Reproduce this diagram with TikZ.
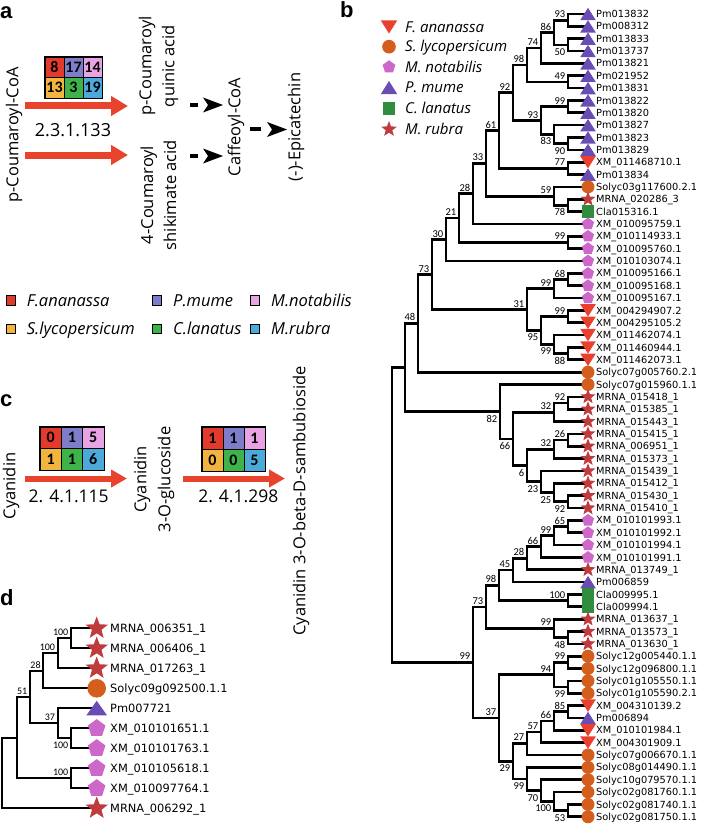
\documentclass[tikz,border=0pt]{standalone}
\usepackage{fontspec}
\setmainfont{Open Sans}
\newfontfamily\dvf{DejaVu Sans}
\newfontfamily\cbf{Carlito}
\newfontfamily\lsf{Liberation Sans}
\usetikzlibrary{arrows.meta,calc}
\definecolor{gR}{HTML}{E23B2E}
\definecolor{gP}{HTML}{7D7DC9}
\definecolor{gK}{HTML}{E7A3E3}
\definecolor{gO}{HTML}{F3B43F}
\definecolor{gG}{HTML}{3DB34A}
\definecolor{gB}{HTML}{4BAADA}
\definecolor{cra}{HTML}{E8432D}
\definecolor{cfa}{HTML}{E9402F}
\definecolor{csl}{HTML}{D35E1E}
\definecolor{cmn}{HTML}{CD67CA}
\definecolor{cpm}{HTML}{6A4CB5}
\definecolor{ccl}{HTML}{2F8D3D}
\definecolor{cmr}{HTML}{BF3B3E}
\tikzset{
  pics/fa/.style={code={\fill[cfa] (-7.8,-6.2) -- (7.8,-6.2) -- (0,6.2) -- cycle;}},
  pics/pm/.style={code={\fill[cpm] (-7.8,6.2) -- (7.8,6.2) -- (0,-6.2) -- cycle;}},
  pics/sl/.style={code={\fill[csl] (0,0) circle (6.5);}},
  pics/mn/.style={code={\fill[cmn] (-90:6.4) -- (-18:6.4) -- (54:6.4) -- (126:6.4) -- (198:6.4) -- cycle;}},
  pics/cl/.style={code={\fill[ccl] (-6,-6.2) rectangle (6,6.2);}},
  pics/mr/.style={code={\fill[cmr] (-90:7.8) -- (-54:3.3) -- (-18:7.8) -- (18:3.3) -- (54:7.8) -- (90:3.3) -- (126:7.8) -- (162:3.3) -- (198:7.8) -- (234:3.3) -- cycle;}},
  pics/dmr/.style={code={\fill[cmr] (-90:11.8) -- (-54:5) -- (-18:11.8) -- (18:5) -- (54:11.8) -- (90:5) -- (126:11.8) -- (162:5) -- (198:11.8) -- (234:5) -- cycle;}},
  pics/dsl/.style={code={\fill[csl] (0,0) circle (9.3);}},
  pics/dpm/.style={code={\fill[cpm] (-10.3,7) -- (10.3,7) -- (0,-7.5) -- cycle;}},
  pics/dmn/.style={code={\fill[cmn] (-90:9.2) -- (-18:9.2) -- (54:9.2) -- (126:9.2) -- (198:9.2) -- cycle;}},
  tb/.style={line width=2.7pt},
  td/.style={line width=2.3pt},
  lbb/.style={font=\dvf\fontsize{9.8}{11}\selectfont, anchor=base west, inner sep=0},
  lbd/.style={font=\dvf\fontsize{11.4}{12}\selectfont, anchor=base west, inner sep=0},
  bsa/.style={font=\cbf\fontsize{10.5}{12}\selectfont, anchor=base east, inner sep=0, xshift=-2.5pt, yshift=2.5pt},
  bsb/.style={font=\cbf\fontsize{10.5}{12}\selectfont, anchor=base east, inner sep=0, xshift=-2.5pt, yshift=-10.5pt},
  dsa/.style={font=\cbf\fontsize{10}{12}\selectfont, anchor=base east, inner sep=0, xshift=-2.5pt, yshift=2.4pt},
  dsb/.style={font=\cbf\fontsize{10}{12}\selectfont, anchor=base east, inner sep=0, xshift=-2.5pt, yshift=-10pt},
  pletter/.style={font=\lsf\bfseries\fontsize{22}{24}\selectfont, anchor=base west, inner sep=0},
  rtx/.style={rotate=90, inner sep=0, align=center, font=\fontsize{16.5}{23}\selectfont},
  enz/.style={inner sep=0, font=\fontsize{18}{20}\selectfont},
  cellg/.style={draw=black, line width=0.9pt, inner sep=0, font=\cbf\bfseries\fontsize{16}{16}\selectfont, text=black},
  lsq/.style={draw=black, line width=0.8pt, minimum size=9.5pt, inner sep=0},
  lgt/.style={anchor=base west, inner sep=0, font=\itshape\fontsize{16.5}{18}\selectfont},
  lgb/.style={anchor=base west, inner sep=0, font=\itshape\fontsize{15}{16}\selectfont},
  redarr/.style={draw=cra, line width=7pt, -{Triangle[length=17pt,width=19pt]}},
  redarc/.style={draw=cra, line width=6pt, -{Triangle[length=16pt,width=17pt]}},
  blkarr/.style={line width=4pt, dash pattern=on 8pt off 80pt, -{Stealth[length=20pt,width=15pt,inset=5pt,line width=0pt]}}
}
\begin{document}
\begin{tikzpicture}[x=1pt,y=-1pt]
\useasboundingbox (0,0) rectangle (708,824);

% ---------------- panel a ----------------
\node[pletter] (la) at (0,18.3) {a};
\node[rtx] (pca) at (14,135) {p-Coumaroyl-CoA};
\node[rtx] (pcq) at (158.5,66) {p-Coumaroyl\\quinic acid};
\node[rtx] (csa) at (158.5,195) {4-Coumaroyl\\shikimate acid};
\node[rtx] (caf) at (236,127) {Caffeoyl-CoA};
\node[rtx] (epi) at (296,127) {(-)-Epicatechin};
\foreach \k/\xx/\yy/\cc/\v in {1/54.5/67.25/gR/8, 2/73.5/67.25/gP/17, 3/92.5/67.25/gK/14,
  4/54.5/87.75/gO/13, 5/73.5/87.75/gG/3, 6/92.5/87.75/gB/19}
  \node[cellg, fill=\cc, minimum width=19pt, minimum height=20.5pt] (ga\k) at (\xx,\yy) {\v};
\draw[line width=1.3pt] (ga1.north west) rectangle (ga6.south east);
\coordinate (ra1s) at (25,106); \coordinate (ra1e) at (128,106);
\coordinate (ra2s) at (25,155); \coordinate (ra2e) at (128,155);
\draw[redarr] (ra1s) -- (ra1e);
\draw[redarr] (ra2s) -- (ra2e);
\node[enz] (ec1) at (73,130) {2.3.1.133};
\coordinate (ba1s) at (190,105); \coordinate (ba1e) at (223,105);
\coordinate (ba2s) at (190,156); \coordinate (ba2e) at (223,156);
\coordinate (ba3s) at (250,129.5); \coordinate (ba3e) at (287,129.5);
\draw[blkarr] (ba1s) -- (ba1e);
\draw[blkarr] (ba2s) -- (ba2e);
\draw[blkarr, dash pattern=on 11pt off 80pt] (ba3s) -- (ba3e);

% legend a
\foreach \k/\xx/\yy/\cc/\t in {1/10.7/300.5/gR/F.ananassa, 2/157/300.5/gP/P.mume, 3/255/300.5/gK/M.notabilis,
  4/10.7/329/gO/S.lycopersicum, 5/157/329/gG/C.lanatus, 6/255/329/gB/M.rubra}{
  \node[lsq, fill=\cc] (sq\k) at (\xx,\yy) {};
  \node[lgt] (lt\k) at (\xx+16,\yy+5.8) {\t};
}

% ---------------- panel c ----------------
\node[pletter] (lc) at (0,406.7) {c};
\node[rtx, font=\fontsize{16.5}{23}\selectfont] (cya) at (11,486) {Cyanidin};
\node[rtx, font=\fontsize{16.5}{24}\selectfont] (c3g) at (154,479.5) {Cyanidin\\3-O-glucoside};
\node[rtx] (sam) at (301,501) {Cyanidin 3-O-beta-D-sambubioside};
\foreach \k/\xx/\yy/\cc/\v in {1/50.7/437.75/gR/0, 2/72/437.75/gP/1, 3/93.3/437.75/gK/5,
  4/50.7/459.25/gO/1, 5/72/459.25/gG/1, 6/93.3/459.25/gB/6}
  \node[cellg, fill=\cc, minimum width=21.3pt, minimum height=21.5pt] (gc\k) at (\xx,\yy) {\v};
\draw[line width=1.3pt] (gc1.north west) rectangle (gc6.south east);
\foreach \k/\xx/\yy/\cc/\v in {1/212.5/438/gR/1, 2/233.5/438/gP/1, 3/254.5/438/gK/1,
  4/212.5/460/gO/0, 5/233.5/460/gG/0, 6/254.5/460/gB/5}
  \node[cellg, fill=\cc, minimum width=21pt, minimum height=22pt] (gd\k) at (\xx,\yy) {\v};
\draw[line width=1.3pt] (gd1.north west) rectangle (gd6.south east);
\coordinate (rc1s) at (25,478.5); \coordinate (rc1e) at (127,478.5);
\coordinate (rc2s) at (183,478.5); \coordinate (rc2e) at (285,478.5);
\draw[redarc] (rc1s) -- (rc1e);
\draw[redarc] (rc2s) -- (rc2e);
\node[enz, font=\fontsize{17.5}{20}\selectfont] (ec2) at (68.7,496.3) {2. 4.1.115};
\node[enz, font=\fontsize{17.5}{20}\selectfont] (ec3) at (238.3,496.3) {2. 4.1.298};

% ---------------- panel d ----------------
\node[pletter] (ld) at (0,605) {d};
\foreach \i in {1,...,10}
  \coordinate (D\i) at (96.7,{628.3+(\i-1)*20});
\foreach \nn/\xx/\ca/\cb/\lab/\ps in {dA/71/D1/D2/100/dsa, dB/57.7/dA/D3/100/dsa, dC/43.3/dB/D4/28/dsa,
  dD/71/D6/D7/100/dsb, dE/57.7/D5/dD/37/dsa, dF/30/dC/dE/51/dsa, dG/71/D8/D9/100/dsa,
  dH/16.7/dF/dG/{}/dsa, dR/1.7/dH/D10/{}/dsa}{
  \path let \p1=($(\ca)!.5!(\cb)$) in coordinate (\nn) at (\xx,\y1);
  \draw[td] (\ca) -| (\nn) |- (\cb);
  \node[\ps] (lab\nn) at (\nn) {\lab};
}
\foreach \i/\s/\t in {1/dmr/MRNA\_006351\_1, 2/dmr/MRNA\_006406\_1, 3/dmr/MRNA\_017263\_1,
  4/dsl/Solyc09g092500.1.1, 5/dpm/Pm007721, 6/dmn/XM\_010101651.1, 7/dmn/XM\_010101763.1,
  8/dmn/XM\_010105618.1, 9/dmn/XM\_010097764.1, 10/dmr/MRNA\_006292\_1}{
  \path (D\i) pic{\s};
  \node[lbd] (DT\i) at (110,{628.3+(\i-1)*20+4.1}) {\t};
}

% ---------------- panel b ----------------
\node[pletter] (lb) at (340,18) {b};
\foreach \k/\s/\yy/\t in {1/fa/27/F. ananassa, 2/sl/46.7/S. lycopersicum, 3/mn/67/M. notabilis,
  4/pm/87.5/P. mume, 5/cl/108.3/C. lanatus, 6/mr/129.2/M. rubra}{
  \path (389,\yy) pic[scale=1.05]{\s};
  \node[lgb] (lgb\k) at (405,\yy+5.3) {\t};
}
\foreach \i in {1,...,66}
  \coordinate (L\i) at (588,{14+(\i-1)*12.35});
\foreach \nn/\xx/\ca/\cb/\lab/\ps in {
  nA/568/L1/L2/93/bsa, nB/568/L3/L4/50/bsb, nC/554/nA/nB/86/bsa, nD/541/nC/L5/74/bsa,
  nE/568/L6/L7/49/bsa, nF/527/nD/nE/98/bsa, nG/568/L8/L9/99/bsa, nH/568/L11/L12/90/bsb,
  nI/554/L10/nH/83/bsb, nJ/541/nG/nI/93/bsa, nK/513/nF/nJ/92/bsa, nL/568/L13/L14/77/bsa,
  nM/499/nK/nL/61/bsa, nN/568/L16/L17/78/bsb, nO/554/L15/nN/59/bsa, nP/486/nM/nO/33/bsa,
  nQ/473/nP/L18/28/bsa, nR/568/L19/L20/99/bsa, nS/459/nQ/nR/21/bsa, nT/446/nS/L21/30/bsa,
  nU/568/L22/L23/68/bsa, nV/554/nU/L24/99/bsa, nW/568/L25/L26/99/bsa, nX/568/L28/L29/88/bsb,
  nY/554/L27/nX/99/bsb, nZ/541/nW/nY/95/bsb, nAA/527/nV/nZ/31/bsa, nAB/432/nT/nAA/73/bsa,
  nAC/418/nAB/L30/48/bsa, nAD/568/L32/L33/92/bsa, nAE/554/nAD/L34/32/bsa, nAF/568/L35/L36/26/bsa,
  nAG/554/nAF/L37/32/bsa, nAH/568/L40/L41/92/bsb, nAI/554/L39/nAH/25/bsb, nAJ/541/L38/nAI/23/bsb,
  nAK/527/nAG/nAJ/6/bsb, nAL/513/nAE/nAK/66/bsb, nAM/500/L31/nAL/82/bsb, nAN/405/nAC/nAM/{}/bsa,
  nAO/568/L42/L43/65/bsa, nAP/554/nAO/L44/99/bsa, nAQ/541/nAP/L45/66/bsa, nAR/527/nAQ/L46/28/bsa,
  nAS/513/nAR/L47/45/bsa, nAT/568/L48/L49/100/bsa, nAU/499/nAS/nAT/98/bsa, nAV/568/L51/L52/48/bsb,
  nAW/554/L50/nAV/99/bsa, nAX/486/nAU/nAW/73/bsa, nAY/568/L53/L54/99/bsa, nAZ/568/L55/L56/99/bsb,
  nBA/554/nAY/nAZ/94/bsa, nBB/568/L57/L58/85/bsa, nBC/554/nBB/L59/66/bsa, nBD/541/nBC/L60/57/bsa,
  nBE/527/nBD/L61/27/bsa, nBF/568/L65/L66/53/bsb, nBG/554/L64/nBF/100/bsb, nBH/541/L63/nBG/70/bsb,
  nBI/527/L62/nBH/99/bsb, nBJ/513/nBE/nBI/29/bsb, nBK/499/nBA/nBJ/37/bsa, nBL/473/nAX/nBK/99/bsa,
  rB/392/nAN/nBL/{}/bsa}{
  \path let \p1=($(\ca)!.5!(\cb)$) in coordinate (\nn) at (\xx,\y1);
  \draw[tb] (\ca) -| (\nn) |- (\cb);
  \node[\ps] (lab\nn) at (\nn) {\lab};
}
\foreach \i/\s/\t in {1/pm/Pm013832, 2/pm/Pm008312, 3/pm/Pm013833, 4/pm/Pm013737, 5/pm/Pm013821,
  6/pm/Pm021952, 7/pm/Pm013831, 8/pm/Pm013822, 9/pm/Pm013820, 10/pm/Pm013827, 11/pm/Pm013823,
  12/pm/Pm013829, 13/fa/XM\_011468710.1, 14/pm/Pm013834, 15/sl/Solyc03g117600.2.1,
  16/mr/MRNA\_020286\_3, 17/cl/Cla015316.1, 18/mn/XM\_010095759.1, 19/mn/XM\_010114933.1,
  20/mn/XM\_010095760.1, 21/mn/XM\_010103074.1, 22/mn/XM\_010095166.1, 23/mn/XM\_010095168.1,
  24/mn/XM\_010095167.1, 25/fa/XM\_004294907.2, 26/fa/XM\_004295105.2, 27/fa/XM\_011462074.1,
  28/fa/XM\_011460944.1, 29/fa/XM\_011462073.1, 30/sl/Solyc07g005760.2.1, 31/sl/Solyc07g015960.1.1,
  32/mr/MRNA\_015418\_1, 33/mr/MRNA\_015385\_1, 34/mr/MRNA\_015443\_1, 35/mr/MRNA\_015415\_1,
  36/mr/MRNA\_006951\_1, 37/mr/MRNA\_015373\_1, 38/mr/MRNA\_015439\_1, 39/mr/MRNA\_015412\_1,
  40/mr/MRNA\_015430\_1, 41/mr/MRNA\_015410\_1, 42/mn/XM\_010101993.1, 43/mn/XM\_010101992.1,
  44/mn/XM\_010101994.1, 45/mn/XM\_010101991.1, 46/mr/MRNA\_013749\_1, 47/pm/Pm006859,
  48/cl/Cla009995.1, 49/cl/Cla009994.1, 50/mr/MRNA\_013637\_1, 51/mr/MRNA\_013573\_1,
  52/mr/MRNA\_013630\_1, 53/sl/Solyc12g005440.1.1, 54/sl/Solyc12g096800.1.1, 55/sl/Solyc01g105550.1.1,
  56/sl/Solyc01g105590.2.1, 57/fa/XM\_004310139.2, 58/pm/Pm006894, 59/fa/XM\_010101984.1,
  60/fa/XM\_004301909.1, 61/sl/Solyc07g006670.1.1, 62/sl/Solyc08g014490.1.1, 63/sl/Solyc10g079570.1.1,
  64/sl/Solyc02g081760.1.1, 65/sl/Solyc02g081740.1.1, 66/sl/Solyc02g081750.1.1}{
  \path (L\i) pic{\s};
  \node[lbb] (T\i) at (596,{14+(\i-1)*12.35+3.6}) {\t};
}
\end{tikzpicture}
\end{document}
